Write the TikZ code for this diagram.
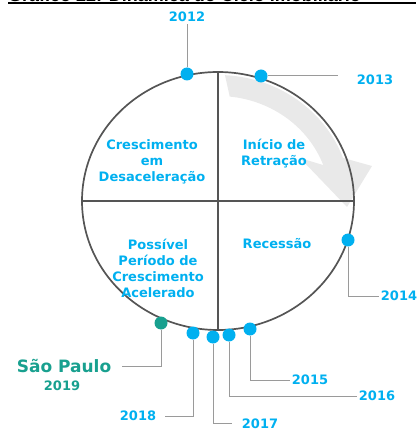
\documentclass[tikz,border=0pt]{standalone}
\usepackage{fontspec}
\setmainfont{DejaVu Sans}
\newfontfamily\titlefont{Liberation Sans}
\usepackage{xcolor}
\usepackage{tikz}
\usetikzlibrary{arrows.meta,positioning,calc}

\definecolor{yearblue}{HTML}{00B0F0}
\definecolor{spteal}{HTML}{18A08F}
\definecolor{ringgray}{HTML}{555555}
\definecolor{leadgray}{HTML}{9A9A9A}
\definecolor{bandgray}{HTML}{E9E9E9}

\begin{document}
\begin{tikzpicture}[
    x=1pt, y=-1pt,
    ring/.style={draw=ringgray, line width=1.7pt},
    dot/.style={circle, fill=yearblue, inner sep=0pt, minimum size=13pt},
    spdot/.style={dot, fill=spteal},
    year/.style={text=yearblue, font=\fontsize{13}{16}\selectfont\bfseries, inner sep=2pt},
    phase/.style={text=yearblue, align=center, font=\fontsize{13}{16}\selectfont\bfseries},
    lead/.style={draw=leadgray, line width=1pt}
  ]
    \useasboundingbox (0,0) rectangle (416,430);

    % title, cut off at the top
    \begin{scope}
      \clip (0,0) rectangle (416,5);
      \node[anchor=base west, inner sep=0pt, font=\titlefont\fontsize{18}{20}\selectfont\bfseries]
        (title) at (8,1.5) {Gráfico 22: Dinâmica do Ciclo Imobiliário};
      \fill[black] (8,2.5) rectangle (416,4.5);
    \end{scope}

    % cycle arrow
    \fill[bandgray] (218,201) ++(-87:133 and 126) arc[start angle=-87, end angle=-20, x radius=133, y radius=126]
      -- (372,166) -- (347,207) -- (300,158)
      -- ($(218,201)+(-20:112 and 105)$) arc[start angle=-20, end angle=-84, x radius=112, y radius=105] -- cycle;

    % circle and quadrants
    \coordinate (c) at (218,201);
    \draw[ring] (c) ellipse [x radius=136, y radius=129];
    \draw[ring] (218,72) -- (218,330);
    \draw[ring] (82,201) -- (354,201);

    \node[phase] (q1) at (152,162) {Crescimento\\em\\Desaceleração};
    \node[phase] (q2) at (274,154) {Início de\\Retração};
    \node[phase] (q3) at (158,268) {Possível\\Período de\\Crescimento\\Acelerado};
    \node[phase] (q4) at (277,244) {Recessão};

    % years on the circle
    \node[dot] (d12) at (187,74) {};
    \node[dot] (d13) at (261,76) {};
    \node[dot] (d14) at (348,240) {};
    \node[dot] (d15) at (250,329) {};
    \node[dot] (d16) at (229,335) {};
    \node[dot] (d17) at (213,337) {};
    \node[dot] (d18) at (193,333) {};
    \node[spdot] (dsp) at (161,323) {};

    \node[year] (l12) at (187,17) {2012};
    \node[year] (l13) at (375,80) {2013};
    \node[year] (l14) at (399,296) {2014};
    \node[year] (l15) at (310,380) {2015};
    \node[year] (l16) at (377,396) {2016};
    \node[year] (l17) at (260,423.5) {2017};
    \node[year] (l18) at (138,416) {2018};
    \node[text=spteal, font=\fontsize{17}{20}\selectfont\bfseries, inner sep=2pt] (lsp) at (64,366) {São Paulo};
    \node[text=spteal, font=\fontsize{13}{16}\selectfont\bfseries] (lsp19) at (62,386) {2019};

    \draw[lead] (d12) -- (l12);
    \draw[lead] (d13) -- ([xshift=-17pt]l13.west |- d13);
    \draw[lead] (d14) |- (l14.west);
    \draw[lead] (d15) |- (l15.west);
    \draw[lead] (d16) |- (l16.west);
    \draw[lead] (d17) |- ([xshift=-8pt]l17.west);
    \draw[lead] (d18) |- ([xshift=7pt]l18.east);
    \draw[lead] (dsp) |- ([xshift=9pt]lsp.east);
\end{tikzpicture}
\end{document}
